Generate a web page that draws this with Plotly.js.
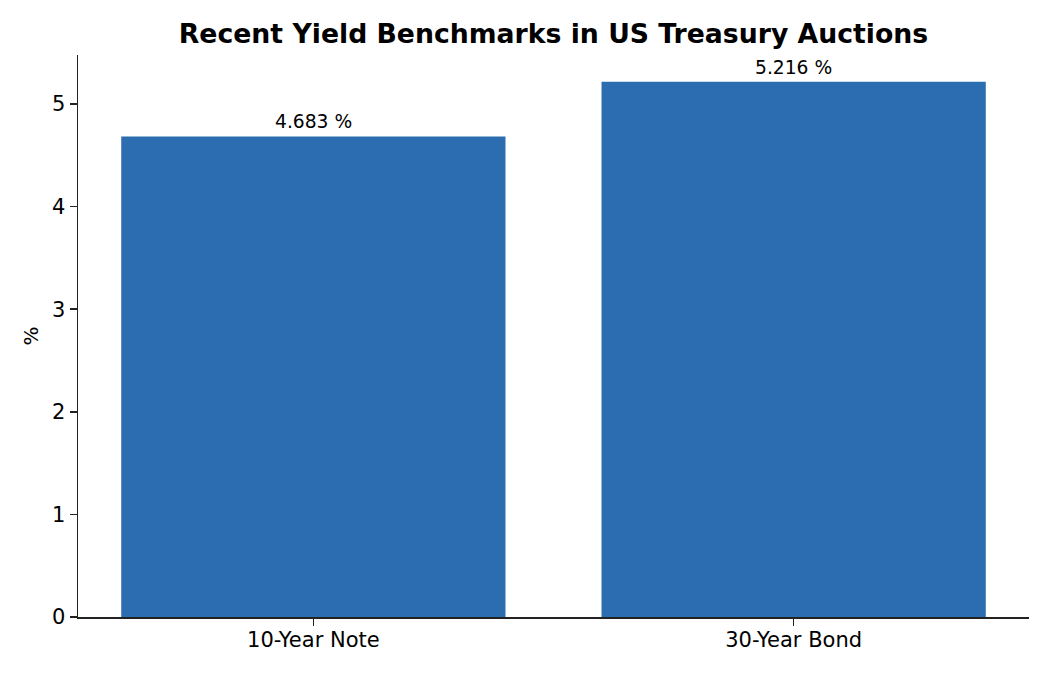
<!DOCTYPE html>
<html>
<head>
<meta charset="utf-8">
<script src="https://cdn.plot.ly/plotly-3.0.1.min.js"></script>
<style>
  html, body { margin: 0; padding: 0; background: #fff; }
  #chart { width: 1050px; height: 675px; }
</style>
</head>
<body>
<div id="chart"></div>
<script>
// auction yields
const categories = ['10-Year Note', '30-Year Bond'];
const yields = [4.683, 5.216];
const barLabels = ['4.683 %', '5.216 %'];

const FONT = 'DejaVu Sans, sans-serif';
const BAR_COLOR = '#2c6cb0';
const AXIS_COLOR = '#222222';

const trace = {
  type: 'bar',
  x: categories,
  y: yields,
  width: 0.8,
  marker: { color: BAR_COLOR, line: { width: 0 } },
  hoverinfo: 'skip',
};

// value labels sit just above each bar
const annotations = categories.map((c, i) => ({
  x: c,
  y: yields[i],
  xref: 'x',
  yref: 'y',
  text: barLabels[i],
  showarrow: false,
  yanchor: 'bottom',
  yshift: 2,
  font: { family: FONT, size: 18.7, color: '#000' },
}));

const layout = {
  width: 1050,
  height: 675,
  margin: { l: 78, r: 21, t: 55, b: 58 },
  paper_bgcolor: '#fff',
  plot_bgcolor: '#fff',
  showlegend: false,
  title: {
    text: '<b>Recent Yield Benchmarks in US Treasury Auctions</b>',
    font: { family: FONT, size: 26.7, color: '#000' },
    xref: 'paper',
    x: 0.5,
    xanchor: 'center',
    y: 0.964,
    yanchor: 'top',
  },
  xaxis: {
    type: 'category',
    range: [-0.49, 1.49],
    showgrid: false,
    zeroline: false,
    showline: true,
    linecolor: AXIS_COLOR,
    linewidth: 1.5,
    ticks: 'outside',
    ticklen: 7,
    tickwidth: 1.5,
    tickcolor: AXIS_COLOR,
    ticklabelstandoff: -4,
    tickfont: { family: FONT, size: 21, color: '#000' },
  },
  yaxis: {
    range: [0, 5.4768],
    tickvals: [0, 1, 2, 3, 4, 5],
    showgrid: false,
    zeroline: false,
    showline: true,
    linecolor: AXIS_COLOR,
    linewidth: 1.5,
    ticks: 'outside',
    ticklen: 7,
    tickwidth: 1.5,
    tickcolor: AXIS_COLOR,
    tickfont: { family: FONT, size: 21, color: '#000' },
    title: { text: '%', font: { family: FONT, size: 20, color: '#000' }, standoff: 8 },
  },
  annotations: annotations,
};

Plotly.newPlot('chart', [trace], layout, { displayModeBar: false, staticPlot: true });
</script>
</body>
</html>
